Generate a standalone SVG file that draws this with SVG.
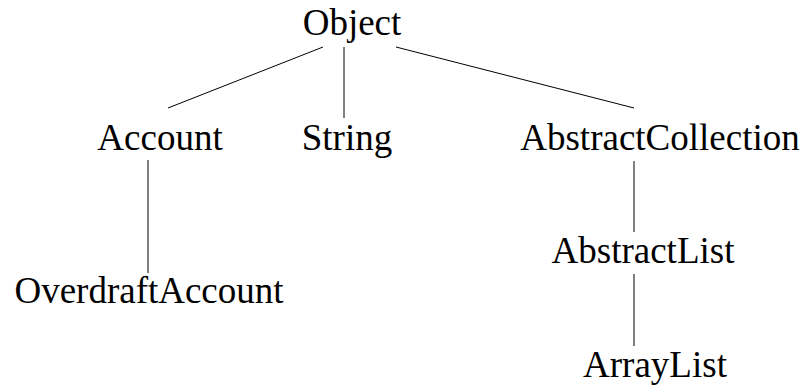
<svg xmlns="http://www.w3.org/2000/svg" width="805" height="386" viewBox="0 0 805 386">
  <style>
    .label { font-family: "Liberation Serif", "Times New Roman", serif; font-size: 37px; fill: #000; text-anchor: middle; }
    .edge { stroke: #000; stroke-width: 1; fill: none; }
  </style>
  <rect width="805" height="386" fill="#fff"/>
  <g id="connectors">
    <line class="edge" x1="323" y1="47" x2="168" y2="108"/>
    <line class="edge" x1="344" y1="47" x2="344" y2="118"/>
    <line class="edge" x1="396" y1="47" x2="634" y2="108"/>
    <line class="edge" x1="148" y1="160" x2="148" y2="273"/>
    <line class="edge" x1="634" y1="161" x2="634" y2="232"/>
    <line class="edge" x1="634" y1="274" x2="634" y2="346"/>
  </g>
  <g id="node-object"><text class="label" x="352" y="35">Object</text></g>
  <g id="node-account"><text class="label" x="160" y="150">Account</text></g>
  <g id="node-string"><text class="label" x="347" y="150">String</text></g>
  <g id="node-abstractcollection"><text class="label" x="660" y="150">AbstractCollection</text></g>
  <g id="node-overdraftaccount"><text class="label" x="149" y="303">OverdraftAccount</text></g>
  <g id="node-abstractlist"><text class="label" x="643" y="263">AbstractList</text></g>
  <g id="node-arraylist"><text class="label" x="655" y="377">ArrayList</text></g>
</svg>
